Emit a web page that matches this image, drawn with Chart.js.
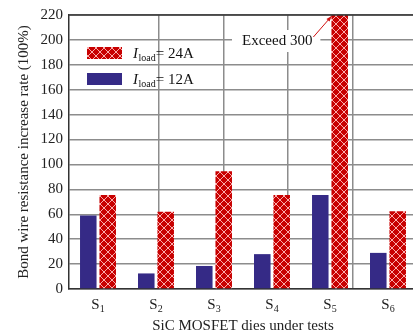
<!DOCTYPE html>
<html>
<head>
<meta charset="utf-8">
<script src="https://cdn.jsdelivr.net/npm/chart.js@4.4.1/dist/chart.umd.min.js"></script>
<style>
    html, body { margin: 0; padding: 0; background: #fff; overflow: hidden; }
    #wrap { width: 413px; height: 335px; overflow: hidden; }
</style>
</head>
<body>
<div id="wrap"><canvas id="chart" width="425" height="335"></canvas></div>
<script>
// Datos
const dies = ['1', '2', '3', '4', '5', '6'];          // S1..S6 (subíndice)
const load12 = [59, 12.5, 18.5, 28, 75.5, 29];        // Iload = 12A
const load24 = [75.5, 62, 94.5, 75.5, 300, 62.5];      // Iload = 24A (S5 supera 300)
const yMin = 0;
const yMax = 220;
const yStep = 20;
const vGridAt = [5 / 3, 10 / 3, 5];                   // líneas verticales de la rejilla
const legendItems = [
    {cur: '24A', idx: 1},
    {cur: '12A', idx: 0}
];
const noteText = 'Exceed 300';

const SERIF = '"Liberation Serif", "DejaVu Serif", serif';
const RED = '#c80000';
const BLUE = '#352a86';
const GRID = '#8c8c8c';
const AXIS = '#333333';

// Patrón de rombos para la serie roja
function makePattern() {
    const c = document.createElement('canvas');
    c.width = 8;
    c.height = 8;
    const g = c.getContext('2d');
    g.fillStyle = RED;
    g.fillRect(0, 0, 8, 8);
    g.strokeStyle = 'rgba(255,190,190,0.9)';
    g.lineWidth = 1;
    g.beginPath();
    g.moveTo(0, 0); g.lineTo(8, 8);
    g.moveTo(8, 0); g.lineTo(0, 8);
    g.stroke();
    return document.getElementById('chart').getContext('2d').createPattern(c, 'repeat');
}
const redFill = makePattern();

// Dibujo de leyenda, etiquetas con subíndice y nota
const extras = {
    id: 'extras',
    afterDatasetsDraw(chart) {
        const ctx = chart.ctx;
        const a = chart.chartArea;
        const xs = chart.scales.x;
        ctx.save();

        // borde superior
        ctx.strokeStyle = AXIS;
        ctx.lineWidth = 1.5;
        ctx.beginPath();
        ctx.moveTo(a.left, a.top);
        ctx.lineTo(a.right, a.top);
        ctx.stroke();

        // etiquetas del eje x: S con subíndice
        ctx.fillStyle = '#222';
        ctx.textBaseline = 'alphabetic';
        ctx.textAlign = 'left';
        dies.forEach((d, i) => {
            const cx = xs.getPixelForValue(i);
            ctx.font = '15px ' + SERIF;
            const w1 = ctx.measureText('S').width;
            ctx.font = '10px ' + SERIF;
            const w2 = ctx.measureText(d).width;
            const x0 = cx - (w1 + w2) / 2;
            ctx.font = '15px ' + SERIF;
            ctx.fillText('S', x0, a.bottom + 20);
            ctx.font = '10px ' + SERIF;
            ctx.fillText(d, x0 + w1, a.bottom + 23);
        });

        // leyenda
        legendItems.forEach((it, k) => {
            const y = a.top + 32 + k * 26;
            const ds = chart.data.datasets[it.idx];
            ctx.fillStyle = ds.backgroundColor;
            ctx.fillRect(a.left + 18, y, 35, 12);
            let x = a.left + 64;
            const base = y + 11;
            ctx.fillStyle = '#111';
            ctx.font = 'italic 15px ' + SERIF;
            ctx.fillText('I', x, base);
            x += ctx.measureText('I').width + 0.5;
            ctx.font = '10px ' + SERIF;
            ctx.fillText('load', x, base + 3);
            x += ctx.measureText('load').width;
            ctx.font = '15px ' + SERIF;
            ctx.fillText('= ' + it.cur, x, base);
        });

        // nota "Exceed 300" con flecha al tope de S5
        const bar = chart.getDatasetMeta(1).data[4];
        const tipX = bar.x - 8;
        const tipY = a.top + 1;
        ctx.font = '15px ' + SERIF;
        const tw = ctx.measureText(noteText).width;
        const tx = 242;
        const ty = a.top + 26;
        ctx.fillStyle = '#fff';
        ctx.fillRect(tx - 10, ty - 11, tw + 18, 22);
        ctx.fillStyle = '#111';
        ctx.textBaseline = 'middle';
        ctx.fillText(noteText, tx, ty);
        const sx = tx + tw + 1;
        const sy = ty - 4;
        ctx.strokeStyle = '#d01010';
        ctx.fillStyle = '#d01010';
        ctx.lineWidth = 1;
        ctx.beginPath();
        ctx.moveTo(sx, sy);
        ctx.lineTo(tipX, tipY);
        ctx.stroke();
        const ang = Math.atan2(tipY - sy, tipX - sx);
        ctx.beginPath();
        ctx.moveTo(tipX, tipY);
        ctx.lineTo(tipX - 6 * Math.cos(ang - 0.35), tipY - 6 * Math.sin(ang - 0.35));
        ctx.lineTo(tipX - 6 * Math.cos(ang + 0.35), tipY - 6 * Math.sin(ang + 0.35));
        ctx.closePath();
        ctx.fill();
        ctx.restore();
    }
};

new Chart(document.getElementById('chart'), {
    type: 'bar',
    data: {
        labels: dies.map(d => 'S' + d),
        datasets: [
            {
                label: 'Iload= 12A',
                data: load12,
                backgroundColor: BLUE,
                categoryPercentage: 0.67,
                barPercentage: 0.85
            },
            {
                label: 'Iload= 24A',
                data: load24,
                backgroundColor: redFill,
                categoryPercentage: 0.67,
                barPercentage: 0.85
            }
        ]
    },
    options: {
        responsive: false,
        animation: false,
        layout: {padding: {top: 10, right: 8, left: 0, bottom: 0}},
        plugins: {
            legend: {display: false},
            tooltip: {enabled: false}
        },
        scales: {
            x: {
                type: 'category',
                grid: {display: false},
                border: {color: AXIS, width: 1.5},
                ticks: {color: 'rgba(0,0,0,0)', font: {size: 15, family: SERIF}},
                title: {
                    display: true,
                    text: 'SiC MOSFET dies under tests',
                    color: '#222',
                    font: {size: 15, family: SERIF},
                    padding: {top: 0, bottom: 0}
                },
                afterFit(scale) { scale.height = 46; }
            },
            xg: {
                type: 'linear',
                position: 'bottom',
                min: 0,
                max: dies.length,
                afterBuildTicks(scale) { scale.ticks = vGridAt.map(v => ({value: v})); },
                ticks: {display: false},
                grid: {color: GRID, lineWidth: 1.5, drawTicks: false},
                border: {display: false},
                afterFit(scale) { scale.height = 0; }
            },
            y: {
                min: yMin,
                max: yMax,
                ticks: {
                    stepSize: yStep,
                    color: '#222',
                    padding: 6,
                    font: {size: 15, family: SERIF}
                },
                grid: {color: GRID, lineWidth: 1.5, drawTicks: false},
                border: {color: AXIS, width: 1.5},
                title: {
                    display: true,
                    text: 'Bond wire resistance increase rate (100%)',
                    color: '#222',
                    font: {size: 15, family: SERIF},
                    padding: {top: 15, bottom: 0}
                },
                afterFit(scale) { scale.width = 69; }
            }
        }
    },
    plugins: [extras]
});
</script>
</body>
</html>
